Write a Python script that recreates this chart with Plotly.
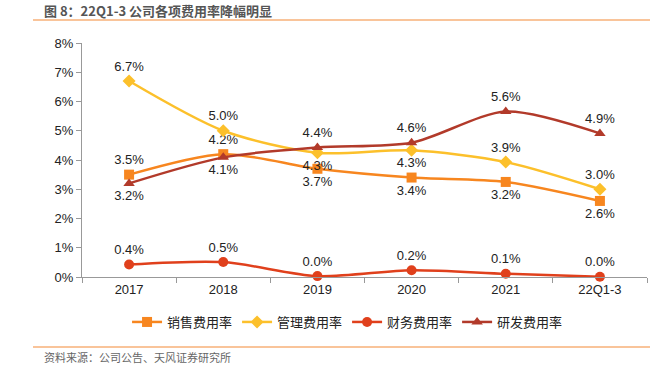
import plotly.graph_objects as go

categories = ["2017", "2018", "2019", "2020", "2021", "22Q1-3"]
sales_rate = [3.5, 4.2, 3.7, 3.4, 3.25, 2.6]
admin_rate = [6.7, 5.0, 4.25, 4.33, 3.93, 3.0]
fin_rate = [0.43, 0.51, 0.03, 0.23, 0.11, 0.01]
rd_rate = [3.2, 4.09, 4.43, 4.59, 5.66, 4.91]
sales_labels = ["3.5%", "4.2%", "3.7%", "3.4%", "3.2%", "2.6%"]
admin_labels = ["6.7%", "5.0%", "4.3%", "4.3%", "3.9%", "3.0%"]
fin_labels = ["0.4%", "0.5%", "0.0%", "0.2%", "0.1%", "0.0%"]
rd_labels = ["3.2%", "4.1%", "4.4%", "4.6%", "5.6%", "4.9%"]
y_ticks = [0, 1, 2, 3, 4, 5, 6, 7, 8]

W, H = 658, 365
L, R, T, B = 82, 11, 43, 88
pw, ph = W - L - R, H - T - B

def px(x):
    return (x - L) / pw

def py(y):
    return (H - B - y) / ph

FONT = "Liberation Sans, Arial, Noto Sans CJK SC, sans-serif"
CJK = "Noto Sans CJK SC, sans-serif"

series = [
    ("销售费用率", sales_rate, sales_labels, "#F7861F", "square", 10,
     ["top center", "top center", "bottom center", "bottom center", "bottom center", "bottom center"]),
    ("管理费用率", admin_rate, admin_labels, "#FCC02B", "diamond", 10,
     ["top center", "top center", "bottom center", "bottom center", "top center", "top center"]),
    ("财务费用率", fin_rate, fin_labels, "#E0401C", "circle", 10,
     ["top center"] * 6),
    ("研发费用率", rd_rate, rd_labels, "#B23A2A", "triangle-up", 10,
     ["bottom center", "bottom center", "top center", "top center", "top center", "top center"]),
]

fig = go.Figure()
for name, vals, labels, color, sym, size, pos in series:
    fig.add_trace(go.Scatter(
        x=categories, y=vals, name=name, mode="lines+markers+text",
        line=dict(color=color, width=2.5, shape="spline", smoothing=0.8),
        marker=dict(symbol=sym, size=size, color=color),
        text=labels, textposition=pos,
        textfont=dict(family=FONT, size=13, color="#222"),
        cliponaxis=False,
    ))

fig.update_layout(
    width=W, height=H,
    margin=dict(l=L, r=R, t=T, b=B),
    paper_bgcolor="white", plot_bgcolor="white",
    font=dict(family=FONT, size=13, color="#222"),
    showlegend=True,
    legend=dict(orientation="h", x=0.47, xanchor="center", y=py(322), yanchor="middle",
                font=dict(family=CJK, size=13, color="#222"), itemwidth=30,
                tracegroupgap=0, bgcolor="rgba(0,0,0,0)"),
    xaxis=dict(type="category", range=[-0.5, 5.5], showgrid=False, showline=True,
               linecolor="#999", linewidth=1, ticks="outside", ticklen=5, tickcolor="#999",
               tickson="boundaries", tickfont=dict(size=13, color="#222")),
    yaxis=dict(range=[0, 8], tickvals=y_ticks, ticktext=[f"{v}%" for v in y_ticks],
               showgrid=False, zeroline=False, showline=True, linecolor="#999", linewidth=1,
               ticks="outside", ticklen=5, tickcolor="#999", tickfont=dict(size=13, color="#222")),
)

fig.add_annotation(xref="paper", yref="paper", x=px(42), y=py(10), xanchor="left", yanchor="middle",
                   text="<b>图 8：22Q1-3 公司各项费用率降幅明显</b>", showarrow=False,
                   font=dict(family=CJK, size=13, color="#555"))
fig.add_annotation(xref="paper", yref="paper", x=px(42), y=py(357), xanchor="left", yanchor="middle",
                   text="资料来源：公司公告、天风证券研究所", showarrow=False,
                   font=dict(family=CJK, size=11, color="#666"))
for yy in (20, 347):
    fig.add_shape(type="line", xref="paper", yref="paper", x0=px(33), x1=px(650), y0=py(yy), y1=py(yy),
                  line=dict(color="#F9C49A", width=2))

fig.write_html("out.html", config={"displayModeBar": False},
               post_script="document.body.style.margin='0';document.body.style.overflow='hidden';")
